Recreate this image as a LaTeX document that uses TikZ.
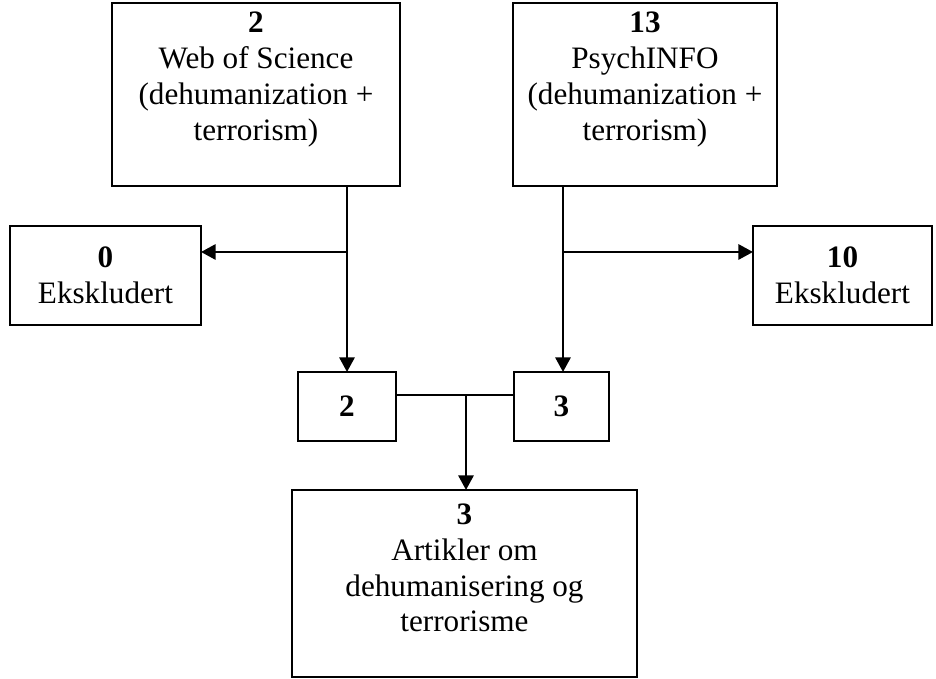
\documentclass[tikz,border=0pt]{standalone}
\usepackage{fontspec}
\setmainfont{Liberation Serif}
\usetikzlibrary{arrows.meta}
\newcommand\botgap[1]{\rule[-#1]{0pt}{0pt}}
\begin{document}
\begin{tikzpicture}[x=0.385pt,y=-0.385pt,
  box/.style={draw, line width=1pt, inner sep=0pt, outer sep=0pt, align=center,
    font=\fontsize{12}{13.8}\selectfont},
  con/.style={line width=1pt},
  arr/.style={con, -{Triangle[length=5.6pt,width=5.8pt]}}]
\useasboundingbox (0,0) rectangle (936,679);
\node[box, minimum width=110.88pt, minimum height=70.455pt] (b1) at (256,94.5)
  {\textbf{2}\\Web of Science\\(dehumanization +\\terrorism)\botgap{14pt}};
\node[box, minimum width=101.64pt, minimum height=70.455pt] (b2) at (645,94.5)
  {\textbf{13}\\PsychINFO\\(dehumanization +\\terrorism)\botgap{14pt}};
\node[box, minimum width=73.535pt, minimum height=38.115pt] (ex1) at (105.5,275.5)
  {\textbf{0}\\Ekskludert};
\node[box, minimum width=68.915pt, minimum height=38.115pt] (ex2) at (842.5,275.5)
  {\textbf{10}\\Ekskludert};
\node[box, minimum width=37.73pt, minimum height=26.565pt] (n2) at (347,406.5)
  {\textbf{2}};
\node[box, minimum width=36.575pt, minimum height=26.565pt] (n3) at (561.5,406.5)
  {\textbf{3}};
\node[box, minimum width=132.825pt, minimum height=71.995pt] (fin) at (464.5,583.5)
  {\textbf{3}\\Artikler om\\dehumanisering og\\terrorisme\botgap{12pt}};
\coordinate (j1) at (347,252);
\coordinate (j2) at (563,252);
\coordinate (j3) at (466,395);
\draw[con] (b1.south -| j1) -- (j1);
\draw[arr] (j1) -- (j1 -| ex1.east);
\draw[arr] (j1) -- (j1 |- n2.north);
\draw[con] (b2.south -| j2) -- (j2);
\draw[arr] (j2) -- (j2 -| ex2.west);
\draw[arr] (j2) -- (j2 |- n3.north);
\draw[con] (n2.east |- j3) -- (n3.west |- j3);
\draw[arr] (j3) -- (j3 |- fin.north);
\end{tikzpicture}
\end{document}
